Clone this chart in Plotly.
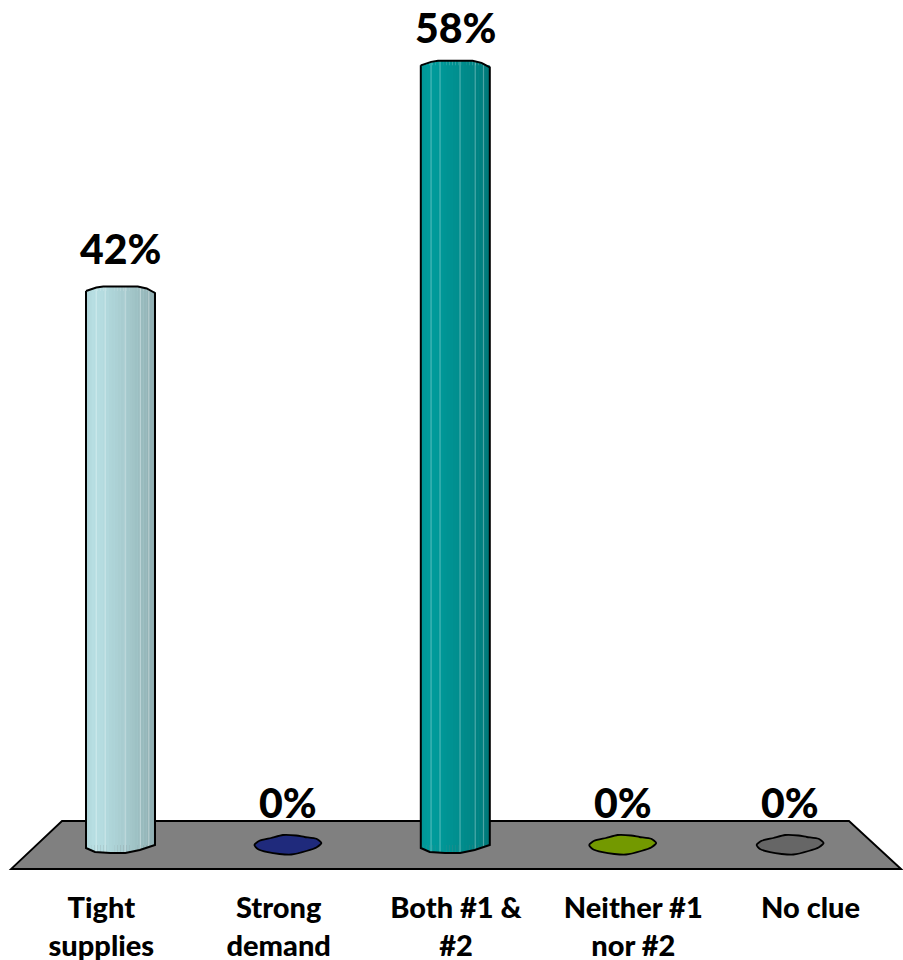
import numpy as np
import plotly.graph_objects as go

categories = ["Tight<br>supplies", "Strong<br>demand", "Both #1 &<br>#2", "Neither #1<br>nor #2", "No clue"]
values = [41.5, 0, 58.4, 0, 0]
colors = ["#B4DBDF", "#1F2A7C", "#009999", "#739900", "#666666"]
label_shift = [42, 43, 38, 43, 43]

W, H, BOTTOM = 903, 960, 80
PLOT_H = H - BOTTOM
ZERO_PX = 845
PX_PER_UNIT = 13.35
FIRST_PX, STEP_PX = 120.5, 167.4
BAR_PX = 69
x_range = [-FIRST_PX / STEP_PX, (W - FIRST_PX) / STEP_PX]
y_range = [-(PLOT_H - ZERO_PX) / PX_PER_UNIT, ZERO_PX / PX_PER_UNIT]
bar_w = BAR_PX / STEP_PX
xs = list(range(len(values)))


def dy(px):
    return np.asarray(px, float) / PX_PER_UNIT


def shade(hex_color, f):
    rgb = [int(hex_color[i:i + 2], 16) for i in (1, 3, 5)]
    return "rgb(%d,%d,%d)" % tuple(min(255, round(c * f)) for c in rgb)


# cylinder profile (fraction of width, pixel rise above the value / drop below zero)
top_u = [-.5, -.35, -.25, .25, .38, .5]
top_px = [0, 3.5, 4.5, 4.5, 2.5, -2]
bot_u = [-.5, -.37, -.15, .07, .28, .5]
bot_px = [3, 7, 8, 8, 5, 0]
# lighting across the cylinder
shade_u = [0, .12, .25, .45, .7, .85, 1]
shade_f = [.98, 1.02, 1.0, .95, .89, .84, .78]
facets = [.14, .27, .56, .78, .9]
blob_u = [-1, -.85, -.5, -.15, .25, .5, .85, 1, .85, .55, .1, -.25, -.6, -.9, -1]
blob_v = [0, .42, .7, 1, .95, .8, .62, .2, -.25, -.6, -.95, -.9, -.72, -.4, 0]

fig = go.Figure()

# main bars, from the values
fig.add_trace(go.Bar(x=xs, y=values, width=bar_w, marker=dict(color=colors, line_width=0),
                     hoverinfo="x+y"))

# cylinder lighting strips
N = 24
for k in range(N):
    lo = k / N
    mid = (k + .5) / N
    u = mid - .5
    rise = float(np.interp(u, top_u, top_px))
    drop = float(np.interp(u, bot_u, bot_px))
    f = float(np.interp(mid, shade_u, shade_f))
    fig.add_trace(go.Bar(
        x=xs,
        y=[float(v + dy(rise + drop)) if v > 0 else 0 for v in values],
        base=[float(-dy(drop)) if v > 0 else 0 for v in values],
        width=bar_w / N * 1.05,
        offset=(lo - .5) * bar_w,
        marker=dict(color=[shade(c, f) for c in colors], line_width=0),
        hoverinfo="skip", showlegend=False))

# pale facet lines on the cylinders
for fx in facets:
    u = fx - .5
    rise = float(np.interp(u, top_u, top_px))
    drop = float(np.interp(u, bot_u, bot_px))
    fig.add_trace(go.Bar(
        x=xs,
        y=[float(v + dy(rise + drop)) if v > 0 else 0 for v in values],
        base=[float(-dy(drop)) if v > 0 else 0 for v in values],
        width=1.2 / STEP_PX,
        offset=u * bar_w,
        marker=dict(color="rgba(255,255,255,0.3)", line_width=0),
        hoverinfo="skip", showlegend=False))

# outlines / blobs
for x0, v, c in zip(xs, values, colors):
    if v > 0:
        ox = [x0 + a * bar_w for a in top_u] + [x0 + a * bar_w for a in reversed(bot_u)]
        oy = [float(v + dy(p)) for p in top_px] + [float(-dy(p)) for p in reversed(bot_px)]
        ox.append(ox[0])
        oy.append(oy[0])
        fig.add_trace(go.Scatter(x=ox, y=oy, mode="lines", line=dict(color="black", width=2),
                                 hoverinfo="skip", showlegend=False))
    else:
        rx = 33.5 / STEP_PX
        fig.add_trace(go.Scatter(x=[x0 + a * rx for a in blob_u],
                                 y=[float(v + dy(b * 10)) for b in blob_v],
                                 mode="lines", fill="toself", fillcolor=c,
                                 line=dict(color="black", width=1.8, shape="spline", smoothing=0.6),
                                 hoverinfo="skip", showlegend=False))

for x0, v, s in zip(xs, values, label_shift):
    fig.add_annotation(x=x0, y=v, text=f"{v:.0f}%", showarrow=False, yanchor="middle", yshift=s,
                       font=dict(family="Lato", size=41, color="black", weight=900))


def px_x(p):
    return p / W


def px_y(p):
    return (PLOT_H - p) / PLOT_H


floor_path = "M {} {} L {} {} L {} {} L {} {} Z".format(
    px_x(62), px_y(821), px_x(849), px_y(821), px_x(901), px_y(869), px_x(11), px_y(869))
fig.add_shape(type="path", path=floor_path, xref="paper", yref="paper", layer="below",
              fillcolor="#808080", line=dict(color="black", width=1.8))

label_step = 177.3 / STEP_PX
fig.update_layout(
    width=W, height=H, margin=dict(l=0, r=0, t=0, b=BOTTOM, pad=0, autoexpand=False),
    paper_bgcolor="white", plot_bgcolor="white", barmode="overlay", showlegend=False,
    xaxis=dict(range=x_range, showgrid=False, zeroline=False, showline=False, automargin=False,
               tickmode="array", tickvals=[2.004 + (i - 2) * label_step for i in xs],
               ticktext=categories, ticks="outside", ticklen=2, tickcolor="rgba(0,0,0,0)",
               tickfont=dict(family="Lato", size=29, color="black", weight=900)),
    yaxis=dict(range=y_range, visible=False),
)
fig.write_html("out.html", post_script="document.body.style.margin='0';",
               config=dict(displayModeBar=False))
